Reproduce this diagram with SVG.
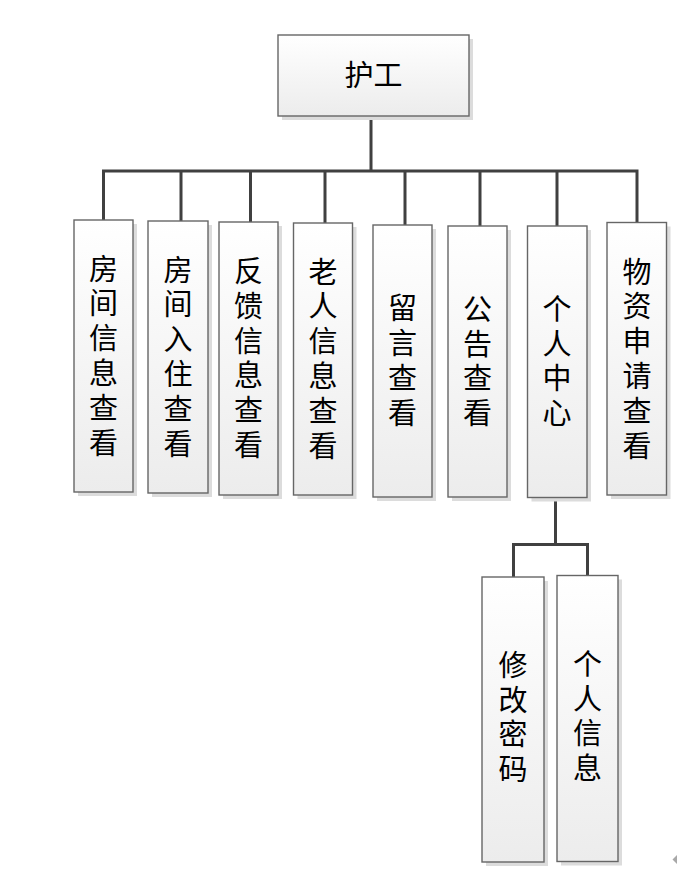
<svg xmlns="http://www.w3.org/2000/svg" width="678" height="878" viewBox="0 0 678 878">
<defs>
<linearGradient id="g" x1="0" y1="0" x2="0" y2="1">
<stop offset="0" stop-color="#ffffff"/>
<stop offset="1" stop-color="#ececec"/>
</linearGradient>
<style>
.sh{fill:#dcdcdc;}
.bx{fill:url(#g);stroke:#666;stroke-width:1.4;}
.t{font-family:"Noto Sans CJK SC","Noto Sans",sans-serif;font-size:29px;fill:#000;text-anchor:middle;}
.c{fill:none;stroke:#404040;stroke-width:3;stroke-linecap:square;stroke-linejoin:miter;}
</style>
</defs>
<rect width="678" height="878" fill="#fff"/>
<g id="connectors">
<path class="c" d="M371 117 V171 M103.5 171 H637 M103.5 171 V219 M181 171 V220 M250.5 171 V221 M325 171 V222 M405 171 V224 M480 171 V225 M557 171 V225 M637 171 V221"/>
<path class="c" d="M555.5 498 V544.5 M513.5 544.5 H587.5 M513.5 544.5 V576 M587.5 544.5 V574.5"/>
</g>
<g id="n0"><rect class="sh" x="282" y="39" width="191" height="81"/><rect class="bx" x="278" y="35" width="191" height="81"/><text class="t" x="373.5" y="85.5">护工</text></g>
<g id="n1"><rect class="sh" x="78" y="224" width="59" height="272"/><rect class="bx" x="74" y="220" width="59" height="272"/><text class="t" x="103.5 103.5 103.5 103.5 103.5 103.5" y="279.5 314.3 349.1 383.9 418.7 453.5">房间信息查看</text></g>
<g id="n2"><rect class="sh" x="152" y="225" width="60" height="272"/><rect class="bx" x="148" y="221" width="60" height="272"/><text class="t" x="178 178 178 178 178 178" y="280.5 315.3 350.1 384.9 419.7 454.5">房间入住查看</text></g>
<g id="n3"><rect class="sh" x="223" y="226" width="59" height="273"/><rect class="bx" x="219" y="222" width="59" height="273"/><text class="t" x="248.5 248.5 248.5 248.5 248.5 248.5" y="282 316.8 351.6 386.4 421.2 456">反馈信息查看</text></g>
<g id="n4"><rect class="sh" x="297.5" y="227" width="59" height="272"/><rect class="bx" x="293.5" y="223" width="59" height="272"/><text class="t" x="323 323 323 323 323 323" y="282.5 317.3 352.1 386.9 421.7 456.5">老人信息查看</text></g>
<g id="n5"><rect class="sh" x="377" y="229" width="59" height="272"/><rect class="bx" x="373" y="225" width="59" height="272"/><text class="t" x="402.5 402.5 402.5 402.5" y="319.3 354.1 388.9 423.7">留言查看</text></g>
<g id="n6"><rect class="sh" x="452" y="230" width="59" height="271"/><rect class="bx" x="448" y="226" width="59" height="271"/><text class="t" x="477.5 477.5 477.5 477.5" y="319.8 354.6 389.4 424.2">公告查看</text></g>
<g id="n7"><rect class="sh" x="531.5" y="230" width="59.5" height="271.5"/><rect class="bx" x="527.5" y="226" width="59.5" height="271.5"/><text class="t" x="557 557 557 557" y="319.8 354.6 389.4 424.2">个人中心</text></g>
<g id="n8"><rect class="sh" x="611" y="226.5" width="59.5" height="272.5"/><rect class="bx" x="607" y="222.5" width="59.5" height="272.5"/><text class="t" x="637 637 637 637 637 637" y="282.5 317.3 352.1 386.9 421.7 456.5">物资申请查看</text></g>
<g id="n9"><rect class="sh" x="486" y="581" width="62" height="285"/><rect class="bx" x="482" y="577" width="62" height="285"/><text class="t" x="513 513 513 513" y="675.8 710.6 745.4 780.2">修改密码</text></g>
<g id="n10"><rect class="sh" x="561" y="579.5" width="61" height="286"/><rect class="bx" x="557" y="575.5" width="61" height="286"/><text class="t" x="587.5 587.5 587.5 587.5" y="674.8 709.6 744.4 779.2">个人信息</text></g>
<polygon points="677,855 672.5,859.5 677,864" fill="#a8a8a8"/>
</svg>
